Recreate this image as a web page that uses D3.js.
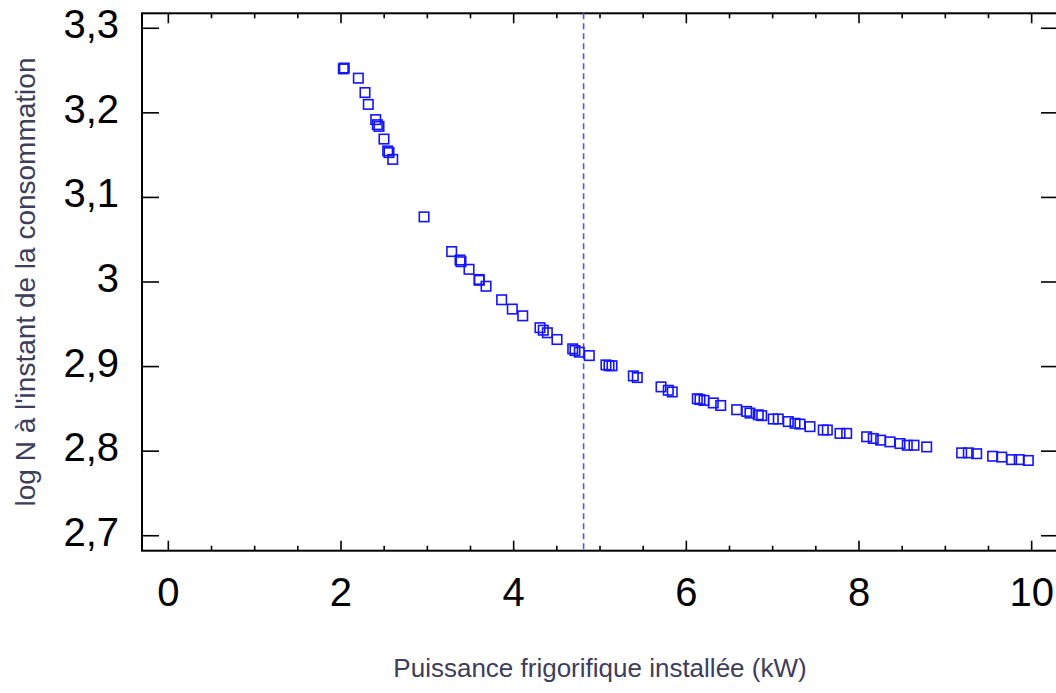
<!DOCTYPE html>
<html>
<head>
<meta charset="utf-8">
<script src="https://cdnjs.cloudflare.com/ajax/libs/d3/7.8.5/d3.min.js"></script>
<style>
  body { margin: 0; background: #fff; }
  svg { display: block; font-family: "Liberation Sans", Arial, sans-serif; }
</style>
</head>
<body>
<svg id="chart" width="1056" height="693"></svg>
<script>
// puissance frigorifique (kW)
const puissance = [2.027, 2.038, 2.201, 2.278, 2.316, 2.402, 2.421, 2.440, 2.498, 2.541,
  2.556, 2.599, 2.962, 3.282, 3.379, 3.390, 3.483, 3.599, 3.602, 3.680,
  3.861, 3.984, 4.105, 4.305, 4.343, 4.390, 4.502, 4.684, 4.710, 4.760,
  4.876, 5.069, 5.104, 5.139, 5.386, 5.432, 5.707, 5.791, 5.837, 6.127,
  6.158, 6.205, 6.312, 6.398, 6.583, 6.699, 6.737, 6.833, 6.873, 7.007,
  7.065, 7.181, 7.259, 7.316, 7.432, 7.586, 7.633, 7.780, 7.857, 8.089,
  8.165, 8.251, 8.359, 8.475, 8.559, 8.637, 8.784, 9.189, 9.266, 9.363,
  9.548, 9.653, 9.768, 9.856, 9.961];
// log N
const logN = [3.252, 3.253, 3.241, 3.224, 3.210, 3.192, 3.186, 3.184, 3.169, 3.155,
  3.153, 3.145, 3.077, 3.036, 3.026, 3.024, 3.015, 3.003, 3.002, 2.995,
  2.979, 2.968, 2.960, 2.946, 2.943, 2.940, 2.932, 2.921, 2.919, 2.917,
  2.913, 2.902, 2.901, 2.901, 2.889, 2.887, 2.876, 2.872, 2.870, 2.862,
  2.861, 2.860, 2.857, 2.854, 2.849, 2.847, 2.845, 2.843, 2.842, 2.838,
  2.838, 2.835, 2.833, 2.832, 2.829, 2.825, 2.825, 2.821, 2.821, 2.817,
  2.815, 2.813, 2.811, 2.809, 2.807, 2.807, 2.805, 2.798, 2.798, 2.797,
  2.794, 2.793, 2.790, 2.790, 2.789];
const xTicks = [0, 2, 4, 6, 8, 10];
const xMinor = d3.range(0, 10.01, 0.5);
const yTicks = [2.7, 2.8, 2.9, 3.0, 3.1, 3.2, 3.3];
const seuil = 4.81; // ligne verticale pointillée
const xTitle = "Puissance frigorifique installée (kW)";
const yTitle = "log N à l'instant de la consommation";

const svg = d3.select("#chart");
const mLeft = 142, mRight = 1058, mTop = 13.3, mBottom = 550.7;

const x = d3.scaleLinear([-0.305, 10.305], [mLeft, mRight]);
const y = d3.scaleLinear([2.6823, 3.3177], [mBottom, mTop]);

const fmt = v => String(+v.toFixed(1)).replace(".", ",");

// cadre
svg.append("rect")
  .attr("x", mLeft).attr("y", mTop)
  .attr("width", mRight - mLeft).attr("height", mBottom - mTop)
  .attr("fill", "none").attr("stroke", "#000").attr("stroke-width", 2);

// ticks x (bas et haut, vers l'intérieur)
const g = svg.append("g").attr("stroke", "#000").attr("stroke-width", 1.6);
xMinor.forEach(v => {
  const major = xTicks.includes(v);
  const len = major ? 10 : 5;
  g.append("line").attr("x1", x(v)).attr("x2", x(v)).attr("y1", mBottom).attr("y2", mBottom - len);
  g.append("line").attr("x1", x(v)).attr("x2", x(v)).attr("y1", mTop).attr("y2", mTop + len);
});
yTicks.forEach(v => {
  g.append("line").attr("x1", mLeft).attr("x2", mLeft + 17).attr("y1", y(v)).attr("y2", y(v));
  g.append("line").attr("x1", mRight).attr("x2", mRight - 17).attr("y1", y(v)).attr("y2", y(v));
});

// labels
svg.append("g").selectAll("text").data(xTicks).join("text")
  .attr("x", d => x(d)).attr("y", 606)
  .attr("text-anchor", "middle").attr("font-size", 40).attr("fill", "#000")
  .text(d => d);

svg.append("g").selectAll("text").data(yTicks).join("text")
  .attr("x", 119).attr("y", d => y(d) + 10)
  .attr("text-anchor", "end").attr("font-size", 40).attr("fill", "#000")
  .text(fmt);

// titres
svg.append("text")
  .attr("x", (mLeft + mRight) / 2).attr("y", 677)
  .attr("text-anchor", "middle").attr("font-size", 26).attr("fill", "#3d3d5c")
  .text(xTitle);

svg.append("text")
  .attr("transform", `translate(35,${(mTop + mBottom) / 2}) rotate(-90)`)
  .attr("text-anchor", "middle").attr("font-size", 28).attr("fill", "#3d3d5c")
  .text(yTitle);

// ligne pointillée
svg.append("line")
  .attr("x1", x(seuil)).attr("x2", x(seuil))
  .attr("y1", mTop).attr("y2", mBottom)
  .attr("stroke", "#5555ee").attr("stroke-width", 1.6)
  .attr("stroke-dasharray", "6,4");

// points
const s = 9.5;
svg.append("g").selectAll("rect").data(puissance).join("rect")
  .attr("x", (d, i) => x(d) - s / 2)
  .attr("y", (d, i) => y(logN[i]) - s / 2)
  .attr("width", s).attr("height", s)
  .attr("fill", "none").attr("stroke", "#1414ff").attr("stroke-width", 1.6);
</script>
</body>
</html>
